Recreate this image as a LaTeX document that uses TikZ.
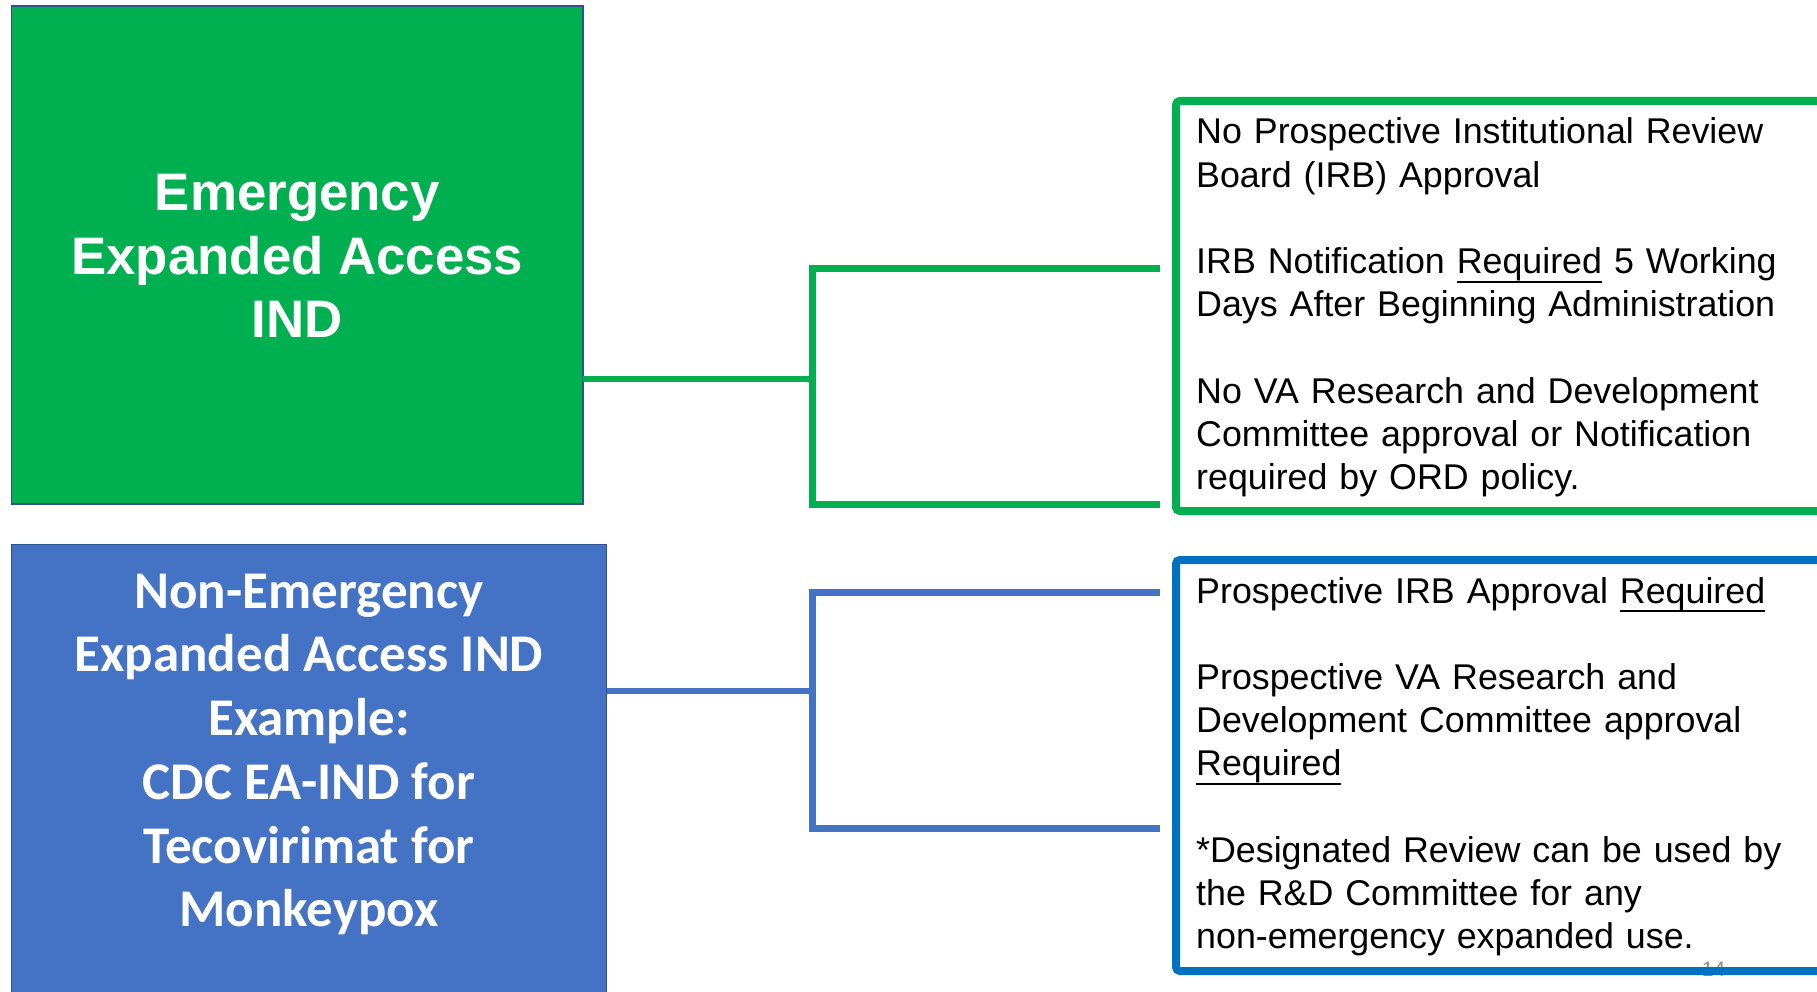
\documentclass[tikz,border=0pt]{standalone}
\usepackage{fontspec}
\setmainfont{Liberation Sans}
\newfontfamily\calfont{Carlito}
\definecolor{pgreen}{HTML}{00B050}
\definecolor{pblue}{HTML}{4472C4}
\definecolor{pedge}{HTML}{2F528F}
\definecolor{rblue}{HTML}{0070C0}
\definecolor{pnum}{HTML}{8C8C8C}
\newcommand\myul[1]{\leavevmode\setbox0\hbox{#1}\rlap{\copy0}\rule[-9pt]{\wd0}{2pt}}
\begin{document}
\begin{tikzpicture}[x=1pt,y=-1pt,
  leftbox/.style={draw=pedge, line width=1.5pt, inner sep=0pt, outer sep=0pt},
  lefttext/.style={align=center, inner sep=0pt, text=white},
  conn/.style={line width=6.7pt, line join=miter, line cap=butt},
  rightbox/.style={draw, line width=8pt, rounded corners=4pt, inner sep=0pt, outer sep=0pt, minimum width=654pt},
  righttext/.style={anchor=base west, align=left, inner sep=0pt, text width=610pt,
    font=\fontsize{35.8}{43.2}\selectfont}]
\useasboundingbox (0,0) rectangle (1817,992);
\clip (0,0) rectangle (1817,992);
\fill[white] (0,0) rectangle (1817,992);

% left boxes
\node[leftbox, fill=pgreen, minimum width=571.4pt, minimum height=498pt] (gbox) at (297.3,255) {};
\node[lefttext, font=\bfseries\fontsize{52.8}{63.7}\selectfont] (gtext) at (297.3,256)
  {Emergency\\Expanded Access\\IND};
\node[leftbox, fill=pblue, minimum width=595pt, minimum height=455.4pt] (bbox) at (309,772.3) {};
\node[lefttext, font=\calfont\bfseries\fontsize{53}{63.7}\selectfont] (btext) at (309,754.5)
  {Non-Emergency\\Expanded Access IND\\Example:\\CDC EA-IND for\\Tecovirimat for\\Monkeypox};

% page number (behind the blue box edge)
\node[text=pnum, font=\fontsize{21}{25}\selectfont, inner sep=0pt] (pnumber) at (1713.5,969.5) {14};

% right boxes
\node[rightbox, draw=pgreen, minimum height=410pt] (gright) at (1503,306) {};
\node[rightbox, draw=rblue, minimum height=411pt] (bright) at (1503,765.5) {};

% right texts
\node[righttext] (gtxt) at (1196,144)
  {No Prospective Institutional Review\\
   Board (IRB) Approval\\[43.2pt]
   IRB Notification \myul{Required} 5 Working\\
   Days After Beginning Administration\\[43.2pt]
   No VA Research and Development\\
   Committee approval or Notification\\
   required by ORD policy.};
\node[righttext] (btxt) at (1196,603)
  {Prospective IRB Approval \myul{Required}\\[43.2pt]
   Prospective VA Research and\\
   Development Committee approval\\
   \myul{Required}\\[43.2pt]
   *Designated Review can be used by\\
   the R\&D Committee for any\\
   non-emergency expanded use.};

% connectors
\coordinate (gj) at (812.6,379);
\coordinate (gt) at (1160,268.7);
\coordinate (gb) at (1160,504.7);
\draw[conn, pgreen] (gbox.east |- gj) -- (gj);
\draw[conn, pgreen] (gt) -- (gt -| gj) -- (gb -| gj) -- (gb);

\coordinate (bj) at (812.6,691);
\coordinate (bt) at (1160,592.5);
\coordinate (bb) at (1160,828.5);
\draw[conn, pblue] (bbox.east |- bj) -- (bj);
\draw[conn, pblue] (bt) -- (bt -| bj) -- (bb -| bj) -- (bb);
\end{tikzpicture}
\end{document}
